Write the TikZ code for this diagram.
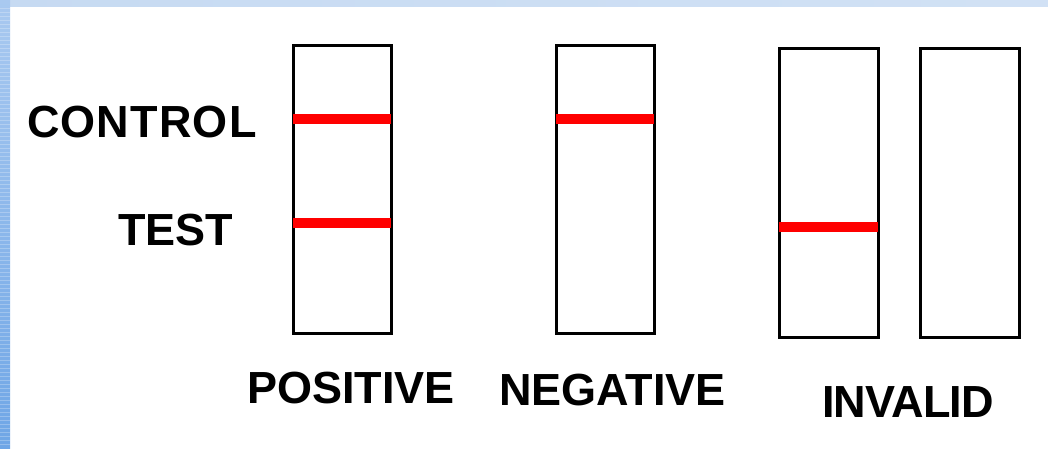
\documentclass[tikz,border=0pt]{standalone}
\usepackage{fontspec}
\setmainfont{Liberation Sans}
\definecolor{bandtop}{HTML}{C6DAF2}
\definecolor{bandleftA}{HTML}{A9C9F0}
\definecolor{bandleftB}{HTML}{6FA6E6}
\definecolor{stripred}{HTML}{FF0000}
\begin{document}
\begin{tikzpicture}[x=1pt,y=-1pt,
  strip/.style={draw=black,line width=3pt,fill=white},
  band/.style={fill=stripred,draw=none},
  lbl/.style={font=\fontsize{45}{54}\bfseries\selectfont,inner sep=0pt,anchor=base west}]
\useasboundingbox (0,0) rectangle (1048,448);
\fill[white] (0,0) rectangle (1048,448);
\shade[left color=bandtop,right color=bandtop!80!white] (0,0) rectangle (1048,6);
\shade[top color=bandleftA,bottom color=bandleftB] (0,0) rectangle (10,448);
\foreach \yy in {8,12,...,446} {\draw[white,opacity=0.25,line width=0.8pt] (0,\yy) -- (10,\yy);}
% strips
\node[strip,minimum width=98pt,minimum height=288pt,inner sep=0pt] (pos) at (342,189) {};
\node[strip,minimum width=98pt,minimum height=288pt,inner sep=0pt] (neg) at (605,189) {};
\node[strip,minimum width=99pt,minimum height=289pt,inner sep=0pt] (inv1) at (828.5,192.5) {};
\node[strip,minimum width=99pt,minimum height=289pt,inner sep=0pt] (inv2) at (969.5,192.5) {};
% red bands
\fill[band] ([xshift=1.5pt]pos.west |- 0,114) rectangle ([xshift=-1.5pt]pos.east |- 0,124);
\fill[band] ([xshift=1.5pt]pos.west |- 0,218) rectangle ([xshift=-1.5pt]pos.east |- 0,228);
\fill[band] ([xshift=1.5pt]neg.west |- 0,114) rectangle ([xshift=-1.5pt]neg.east |- 0,124);
\fill[band] ([xshift=1.5pt]inv1.west |- 0,222) rectangle ([xshift=-1.5pt]inv1.east |- 0,232);
% labels
\node[lbl] (control) at (27,137) {\addfontfeatures{LetterSpace=2.6}CONTROL};
\node[lbl] (test) at (118,245) {TEST};
\node[lbl] (positive) at (247,403) {POSITIVE};
\node[lbl] (negative) at (499,405) {NEGATIVE};
\node[lbl] (invalid) at (822,417) {\addfontfeatures{LetterSpace=-1.8}INVALID};
\end{tikzpicture}
\end{document}
